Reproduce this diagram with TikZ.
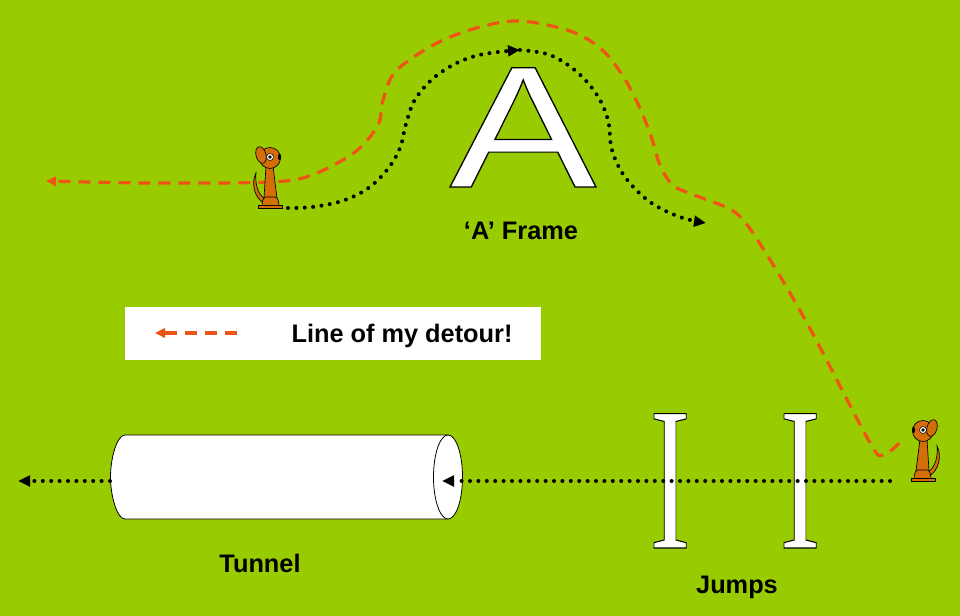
\documentclass[tikz,border=0pt]{standalone}
\usepackage{fontspec}
\setmainfont{Liberation Sans}
\newfontfamily\serifjump{Liberation Serif}
\usetikzlibrary{arrows.meta}

\definecolor{relva}{RGB}{153,204,0}
\definecolor{desvio}{RGB}{238,84,22}
\definecolor{pelo}{RGB}{212,110,8}

% letra branca com contorno preto
\newcommand{\contorno}[1]{\special{pdf:literal direct 0 0 0 RG 0.8 w 2 Tr}#1\special{pdf:literal direct 0 Tr}}

\tikzset{
	dog/.pic={
		% cauda
		\filldraw[fill=pelo,line width=0.5pt] (-6,-5) .. controls (-16,-10) and (-19,-26) .. (-14,-35) .. controls (-15,-26) and (-13,-14) .. (-5,-9) -- cycle;
		% corpo
		\filldraw[fill=pelo,line width=0.5pt] (-6,-10) -- (-4,-42) -- (3,-42) -- (7,-10) -- cycle;
		\filldraw[fill=pelo,line width=0.5pt] (-8,-2) .. controls (-8,-8) and (-6,-11) .. (-4,-11) -- (5,-11) .. controls (7,-11) and (9,-8) .. (9,-2) -- cycle;
		\filldraw[fill=pelo,line width=0.5pt] (-12,-3) rectangle (12,0);
		% cabeca
		\filldraw[fill=pelo,line width=0.5pt] (0,-50) circle[radius=10.5];
		\filldraw[fill=pelo,line width=0.5pt,rotate around={15:(-9,-53)}] (-9,-53) ellipse[x radius=5,y radius=8.5];
		\filldraw[fill=white,line width=0.4pt] (0,-51) circle[radius=3.5];
		\fill (0,-51) circle[radius=1.8];
		\fill (9.5,-51) ellipse[x radius=1.6,y radius=3.2];
	},
	detour/.style={desvio,line width=2.4pt,dash pattern=on 9pt off 6pt},
	route/.style={black,line width=3pt,line cap=round,dash pattern=on 0pt off 6.3pt},
	label/.style={font=\fontsize{19pt}{23pt}\selectfont\bfseries,anchor=base},
}

\begin{document}
\begin{tikzpicture}[x=0.75pt,y=-0.75pt]

% fundo
	\useasboundingbox (0,0) rectangle (960,616);
	\fill[relva] (0,0) rectangle (960,616);

% legenda
	\fill[white] (125,307) rectangle (541,360);
	\coordinate (legR) at (237,333);
	\coordinate (legL) at (155,333);
	\draw[detour,-{Triangle[length=7.5pt,width=7pt]}] (legR) -- (legL);
	\node[label] (legtext) at (402,343) {Line of my detour!};

% obstaculo A
	\node[anchor=base,inner sep=0pt,text=white,font=\fontsize{130pt}{130pt}\selectfont] (aframe) at (523,187) {\scalebox{1.27}[1]{\contorno{A}}};
	\node[label] (aframelabel) at (521,240) {‘A’ Frame};

% tunel
	\filldraw[fill=white,line width=0.6pt] (448,435) -- (125,435) .. controls (117,435) and (110.5,458) .. (110.5,477) .. controls (110.5,496) and (117,519) .. (125,519) -- (448,519) -- cycle;
	\filldraw[fill=white,line width=0.6pt] (448,477) ellipse[x radius=14.5,y radius=42];
	\coordinate (tunnelin) at (442,481);
	\coordinate (tunnelout) at (110,481);
	\node[label] (tunnellabel) at (260,572) {Tunnel};

% saltos
	\foreach \x [count=\i] in {670,800}
		\node[anchor=base,inner sep=0pt,text=white,font=\serifjump\fontsize{154pt}{154pt}\selectfont] (jump\i) at (\x,548) {\scalebox{0.6}[1]{\contorno{I}}};
	\node[label] (jumpslabel) at (737,593) {Jumps};

	\coordinate (startA) at (288,208);
	\coordinate (startB) at (890,481);
	\coordinate (top) at (520,50);
	\coordinate (endA) at (706,223);
	\coordinate (endL) at (18,481);

% percurso por cima do A
	\draw[route,-{Triangle[length=9pt,width=8pt]}] plot[smooth,tension=0.6] coordinates {(startA) (312,207) (342,201) (367,189) (387,170) (400,148) (406,124) (416,98) (440,73) (475,56) (top)};
	\draw[route,-{Triangle[length=9pt,width=8pt]}] plot[smooth,tension=0.6] coordinates {(top) (550,55) (577,72) (597,95) (608,120) (612,150) (625,177) (650,202) (680,217) (endA)};

% percurso por baixo
	\draw[route,-{Triangle[length=9pt,width=8pt]}] (startB) -- (tunnelin);
	\draw[route,-{Triangle[length=9pt,width=8pt]}] (tunnelout) -- (endL);

% linha do desvio
	\draw[detour,-{Triangle[length=7.5pt,width=7pt]}] plot[smooth,tension=0.55] coordinates {(899,443) (883,455) (869,441) (807,323) (762,247) (736,213) (702,198) (674,186) (660,165) (651,136) (638,104) (621,73) (600,48) (570,31) (520,21) (480,27) (437,43) (396,71) (383,100) (378,125) (355,152) (312,175) (270,182) (150,183) (46,181)};

% caes
	\pic (dogA) at (270,208) {dog};
	\pic[xscale=-1] (dogB) at (923,481) {dog};

\end{tikzpicture}
\end{document}
